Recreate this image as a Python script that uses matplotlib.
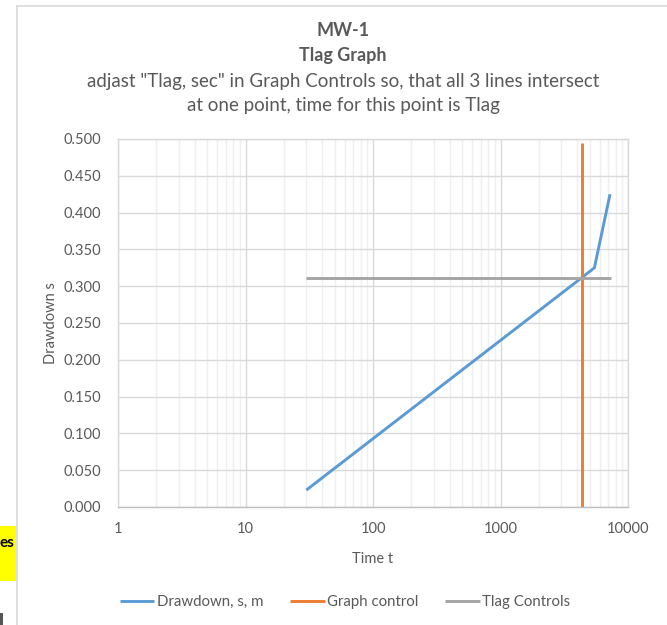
import numpy as np
import matplotlib
matplotlib.use("Agg")
import matplotlib.pyplot as plt
from matplotlib.lines import Line2D
from matplotlib.patches import Rectangle
from matplotlib.ticker import LogLocator, FixedLocator, NullFormatter

plt.rcParams['font.family'] = ['Lato', 'DejaVu Sans']

# data
t_draw = [30, 4350, 5450, 7230]          # time t
s_draw = [0.023, 0.3117, 0.325, 0.425]   # drawdown, s, m
t_ctrl = [4350, 4350]                    # Graph control (vertical)
s_ctrl = [0.0, 0.495]
t_tlag = [30, 7300]                      # Tlag Controls (horizontal)
s_tlag = [0.3117, 0.3117]

title_lines = ['MW-1', 'Tlag Graph',
               'adjast "Tlag, sec" in Graph Controls so, that all 3 lines intersect',
               'at one point, time for this point is Tlag']

txt = '#595959'
W, H = 667, 625
fig = plt.figure(figsize=(W / 100, H / 100), dpi=100)
ax = fig.add_axes([118 / W, 1 - 507 / H, (628 - 118) / W, (507 - 139) / H])

ax.plot(t_draw, s_draw, color='#5B9BD5', lw=2.1, label='Drawdown, s, m', solid_capstyle='butt')
ax.plot(t_ctrl, s_ctrl, color='#ED7D31', lw=2.1, label='Graph control', solid_capstyle='butt')
ax.plot(t_tlag, s_tlag, color='#A5A5A5', lw=2.1, label='Tlag Controls', solid_capstyle='butt')

ax.set_xscale('log')
ax.set_xlim(1, 10000)
ax.set_ylim(0, 0.5)
ax.xaxis.set_major_locator(FixedLocator([1, 10, 100, 1000, 10000]))
ax.xaxis.set_minor_locator(LogLocator(base=10, subs=np.arange(2, 10), numticks=20))
ax.xaxis.set_minor_formatter(NullFormatter())
ax.set_xticks([1, 10, 100, 1000, 10000])
ax.set_xticklabels(['1', '10', '100', '1000', '10000'])
ax.set_yticks(np.arange(0, 0.5001, 0.05))
ax.set_yticklabels(['%.3f' % v for v in np.arange(0, 0.5001, 0.05)])

ax.grid(True, which='major', color='#d9d9d9', lw=1.0)
ax.grid(True, which='minor', axis='x', color='#efefef', lw=1.0)
ax.set_axisbelow(True)
for side in ['top', 'right', 'left']:
    ax.spines[side].set_color('#d9d9d9')
    ax.spines[side].set_linewidth(1.0)
ax.spines['bottom'].set_color('#bfbfbf')
ax.spines['bottom'].set_linewidth(1.0)
ax.tick_params(which='both', length=0, colors=txt, labelsize=10.5)
ax.tick_params(axis='y', pad=12)
ax.tick_params(axis='x', pad=11)

ax.set_xlabel('Time t', color=txt, fontsize=10.5, labelpad=11)
ax.set_ylabel('Drawdown s', color=txt, fontsize=10.5, labelpad=4)

# title block
ys = [30, 56, 81, 105]
for i, (line, y) in enumerate(zip(title_lines, ys)):
    fig.text(343 / W, 1 - y / H, line, ha='center', va='center', color=txt,
             fontsize=13 if i < 2 else 13.5, fontweight='bold' if i < 2 else 'normal')

fig.legend(loc='center', bbox_to_anchor=(345 / W, 1 - 602 / H), ncol=3, frameon=False,
           fontsize=10.8, handlelength=2.3, columnspacing=1.8, handletextpad=0.15,
           labelcolor=txt)

# chart area border and the spreadsheet bits left of it
fig.add_artist(Line2D([17 / W, 17 / W], [0, 1 - 6 / H], color='#d9d9d9', lw=1.2))
fig.add_artist(Line2D([17 / W, 1], [1 - 6 / H, 1 - 6 / H], color='#d9d9d9', lw=1.2))
fig.add_artist(Rectangle((0, 1 - 581 / H), 16 / W, 55 / H, color='#ffff00', lw=0))
fig.text(0, 1 - 543 / H, 'es', ha='left', va='center', fontsize=11, fontweight='bold', color='black')
fig.add_artist(Rectangle((0, 0), 3 / W, 12 / H, color='#555555', lw=0))

fig.savefig('out.png', dpi=100)
